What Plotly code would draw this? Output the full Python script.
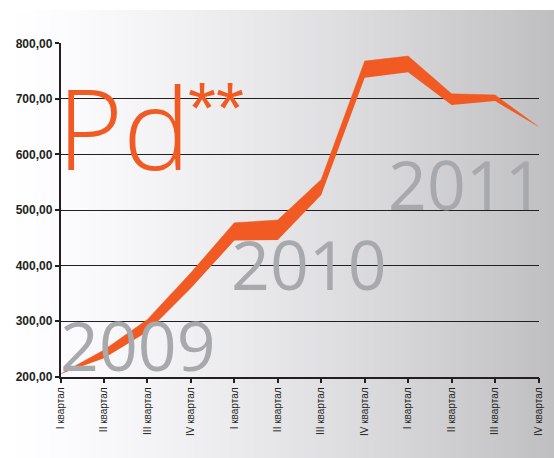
import plotly.graph_objects as go

categories = ["I квартал", "II квартал", "III квартал", "IV квартал",
              "I квартал", "II квартал", "III квартал", "IV квартал",
              "I квартал", "II квартал", "III квартал", "IV квартал"]
upper_values = [205, 248, 303, 387, 477, 482, 555, 768, 777, 709, 707, 650]
lower_values = [205, 233, 281, 359, 445, 446, 527, 738, 748, 689, 696, 650]
y_ticks = [200, 300, 400, 500, 600, 700, 800]
year_labels = ["2009", "2010", "2011"]
title_text = "Pd"
title_mark = "**"

W, H = 554, 458
ORANGE = "#f15a22"
GRAY = "#a7a9ac"
DARK = "#231f20"

x_idx = list(range(len(categories)))

fig = go.Figure()
fig.add_trace(go.Scatter(x=x_idx, y=lower_values, mode="lines",
                         line=dict(width=0, color=ORANGE), hoverinfo="skip",
                         showlegend=False))
fig.add_trace(go.Scatter(x=x_idx, y=upper_values, mode="lines",
                         line=dict(width=0.5, color=ORANGE), fill="tonexty",
                         fillcolor=ORANGE, hoverinfo="skip", showlegend=False))

# background gradient strips (paper coords, full figure)
shapes = []
n = 111
for i in range(n):
    t0 = i / n
    t1 = (i + 1) / n
    tm = (t0 + t1) / 2
    c = 255 - 64 * (tm ** 1.35)
    r = int(round(c))
    b = int(round(min(255, c + 3)))
    shapes.append(dict(type="rect", xref="paper", yref="paper",
                       x0=t0, x1=t1 + 0.002, y0=0, y1=1 - 10 / H,
                       fillcolor=f"rgb({r},{r},{b})", line=dict(width=0),
                       layer="below"))

x0p, x1p = 60.5 / W, 538.5 / W
y0p, y1p = 1 - 376.7 / H, 1 - 43.3 / H

annotations = [
    dict(text=title_text, xref="paper", yref="paper", x=55 / W, y=1 - 205 / H,
         xanchor="left", yanchor="bottom", showarrow=False,
         font=dict(family="Open Sans", size=113, color=ORANGE, weight=300)),
    dict(text=title_mark, xref="paper", yref="paper", x=186 / W, y=1 - 108 / H,
         xanchor="left", yanchor="middle", showarrow=False,
         font=dict(family="Liberation Sans", size=72, color=ORANGE)),
]
year_pos = [(58, 393, "left"), (229, 312, "left"), (546, 232, "right")]
for lab, (px, py, anc) in zip(year_labels, year_pos):
    annotations.append(dict(text=lab, xref="paper", yref="paper", x=px / W,
                            y=1 - py / H, xanchor=anc, yanchor="bottom",
                            showarrow=False,
                            font=dict(family="Open Sans", size=68, color=GRAY)))

fig.update_layout(
    width=W, height=H,
    margin=dict(l=0, r=0, t=0, b=0, autoexpand=False),
    paper_bgcolor="white",
    plot_bgcolor="rgba(0,0,0,0)",
    separators=", ",
    shapes=shapes,
    annotations=annotations,
    xaxis=dict(domain=[x0p, x1p], range=[0, len(categories) - 1],
               tickvals=x_idx, ticktext=categories, tickangle=-90,
               automargin=False,
               showgrid=False, zeroline=False, showline=True,
               linecolor=DARK, linewidth=1.5, ticks="outside", ticklen=5,
               tickcolor=DARK, tickwidth=1.5,
               tickfont=dict(family="Liberation Sans", size=10, color=DARK),
               fixedrange=True),
    yaxis=dict(domain=[y0p, y1p], range=[200, 800], tickvals=y_ticks,
               automargin=False,
               tickformat=".2f", showgrid=True, gridcolor=DARK, gridwidth=1.2,
               zeroline=False, showline=True, linecolor=DARK, linewidth=1.5,
               ticks="outside", ticklen=4, tickcolor=DARK, tickwidth=1.5,
               tickfont=dict(family="Liberation Sans", size=12, color=DARK,
                             weight="bold"),
               fixedrange=True),
)

fig.write_html("out.html",
               config={"displayModeBar": False},
               post_script="document.body.style.margin='0';"
                           "document.body.style.overflow='hidden';")
